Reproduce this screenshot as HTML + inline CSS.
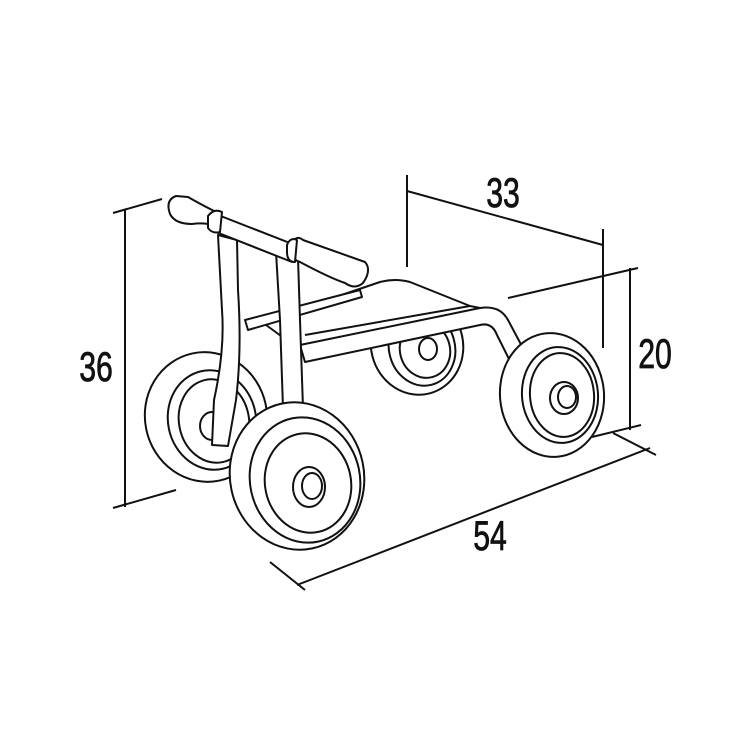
<!DOCTYPE html>
<html><head><style>
html,body{margin:0;padding:0;background:#fff;}
svg{display:block}
text{font-family:"Liberation Sans",sans-serif;font-size:42px;fill:#111;}
</style></head><body>
<svg width="751" height="751" viewBox="0 0 751 751" xmlns="http://www.w3.org/2000/svg">
<g stroke="#111" stroke-width="2" fill="none">
<line x1="125" y1="210" x2="125" y2="507"/>
<line x1="113" y1="213" x2="162" y2="199"/>
<line x1="113" y1="508" x2="176" y2="490"/>
<line x1="407" y1="175" x2="407" y2="267"/>
<line x1="407" y1="191" x2="603" y2="245"/>
<line x1="603" y1="229" x2="603" y2="348"/>
<line x1="630" y1="268" x2="630" y2="430"/>
<line x1="508" y1="298" x2="638" y2="268"/>
<line x1="592" y1="437" x2="641" y2="425"/>
<line x1="297" y1="585" x2="650" y2="448"/>
<line x1="270" y1="562" x2="305" y2="590"/>
<line x1="613" y1="433" x2="656" y2="455"/>
</g>
<g transform="translate(96,381) scale(0.72,1)"><text text-anchor="middle" stroke="#111" stroke-width="0.8">36</text></g>
<g transform="translate(503,207) scale(0.72,1)"><text text-anchor="middle" stroke="#111" stroke-width="0.8">33</text></g>
<g transform="translate(655,368) scale(0.72,1)"><text text-anchor="middle" stroke="#111" stroke-width="0.8">20</text></g>
<g transform="translate(490,550) scale(0.72,1)"><text text-anchor="middle" stroke="#111" stroke-width="0.8">54</text></g>

<g stroke="#111" stroke-width="2" fill="#fff" stroke-linejoin="round">
<ellipse cx="417" cy="345" rx="46" ry="50" transform="rotate(-15 417 345)"/>
<ellipse cx="422" cy="348" rx="33" ry="38" transform="rotate(-15 422 348)"/>
<ellipse cx="425" cy="350" rx="25" ry="28" transform="rotate(-15 425 350)"/>
<ellipse cx="428" cy="349" rx="9" ry="11"/>
<path d="M262 322 L380 282 Q395 278 410 282 L470 306 L490 310 L300 350 Z"/>
<path d="M305 335 L470 306"/>
<path d="M305 362 L480 325 Q492 322 497 335 L512 365 L525 352 L508 320 Q500 305 480 308 L300 345 Z"/>
<path d="M245 320 L360 290 L362 297 L248 330 Z"/>
<ellipse cx="206" cy="417" rx="61" ry="65" transform="rotate(-12 206 417)"/>
<ellipse cx="212" cy="420" rx="44" ry="50" transform="rotate(-12 212 420)"/>
<ellipse cx="214" cy="421" rx="35" ry="42" transform="rotate(-12 214 421)" fill="none"/>
<ellipse cx="212" cy="426" rx="12" ry="14"/>
<path d="M218 235 L222 310 Q225 350 214 400 L212 445 L228 446 L236 400 Q242 350 238 290 L237 240 Z"/>
<path d="M276 252 L280 320 L283 408 L303 408 L300 320 L298 258 Z"/>
<path d="M176 196 Q165 200 170 214 Q175 224 192 224 Q205 222 215 226 L220 214 Q200 204 188 197 Z"/>
<path d="M213 213 L295 245 L292 262 L211 230 Z"/>
<path d="M208 216 Q214 208 222 212 L220 232 Q212 234 208 228 Z"/>
<path d="M290 245 Q296 234 303 240 L365 262 Q372 270 363 283 Q355 290 345 283 Q330 278 300 262 Q288 258 290 245 Z"/>
<path d="M287 245 Q290 237 297 240 L295 262 Q287 262 287 252 Z"/>
<ellipse cx="297" cy="476" rx="67" ry="74" transform="rotate(-12 297 476)"/>
<ellipse cx="305" cy="480" rx="55" ry="63" transform="rotate(-12 305 480)" fill="none"/>
<ellipse cx="308" cy="483" rx="43" ry="50" transform="rotate(-12 308 483)" fill="none"/>
<ellipse cx="309" cy="487" rx="16" ry="20"/>
<ellipse cx="312" cy="486" rx="10" ry="13"/>
<ellipse cx="552" cy="395" rx="52" ry="62" transform="rotate(-5 552 395)"/>
<ellipse cx="560" cy="395" rx="38" ry="48" transform="rotate(-5 560 395)" fill="none"/>
<ellipse cx="562" cy="395" rx="32" ry="42" transform="rotate(-5 562 395)" fill="none"/>
<ellipse cx="564" cy="398" rx="14" ry="16"/>
<ellipse cx="567" cy="397" rx="9" ry="11"/>
</g>
</svg>
</body></html>
